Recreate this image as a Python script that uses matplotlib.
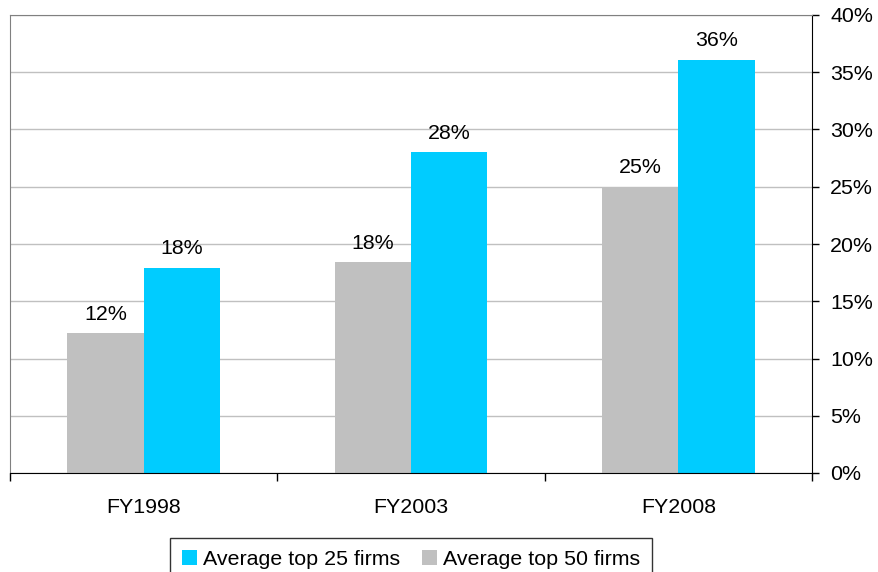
import matplotlib
matplotlib.use("Agg")
import matplotlib.pyplot as plt
import numpy as np

plt.rcParams['font.family'] = ['Liberation Sans', 'DejaVu Sans']

categories = ['FY1998', 'FY2003', 'FY2008']
top50 = [12.2, 18.4, 25.0]
top25 = [17.9, 28.0, 36.1]
series_names = ['Average top 25 firms', 'Average top 50 firms']

fig = plt.figure(figsize=(8.79, 5.72), dpi=100)
ax = fig.add_axes([10 / 879, 99 / 572, 802 / 879, 458 / 572])

x = np.arange(len(categories)) + 0.5
w = 0.286
fs = 15.4

b50 = ax.bar(x - w / 2, top50, w, color='#C0C0C0', zorder=2)
b25 = ax.bar(x + w / 2, top25, w, color='#00CCFF', zorder=2)
ax.bar_label(b50, labels=['%d%%' % round(v) for v in top50], padding=7, fontsize=fs)
ax.bar_label(b25, labels=['%d%%' % round(v) for v in top25], padding=7, fontsize=fs)

ax.set_xlim(0, 3)
ax.set_ylim(0, 40)
ax.yaxis.tick_right()
ax.set_yticks(range(0, 41, 5))
ax.set_yticklabels(['%d%%' % v for v in range(0, 41, 5)], fontsize=fs)
ax.tick_params(axis='y', direction='out', length=5, width=1, pad=8)
ax.grid(axis='y', color='#C0C0C0', linewidth=1, zorder=0)

# category boundaries get the tick marks, centres get the labels
ax.set_xticks([0, 1, 2, 3])
ax.set_xticklabels([])
ax.set_xticks(x, minor=True)
ax.set_xticklabels(categories, minor=True, fontsize=fs)
ax.tick_params(axis='x', which='major', direction='out', length=6, width=1)
ax.tick_params(axis='x', which='minor', length=0, pad=18)

ax.spines['left'].set_color('#808080')
ax.spines['top'].set_color('#808080')
ax.spines['right'].set_color('black')
ax.spines['bottom'].set_color('black')

leg = fig.legend([b25, b50], series_names, loc='upper center',
                 bbox_to_anchor=(411 / 879, 1 - 538 / 572), ncol=2,
                 fontsize=fs, frameon=True, fancybox=False, edgecolor='black',
                 handlelength=0.7, handleheight=0.7, handletextpad=0.3,
                 columnspacing=1.0, borderpad=0.55, borderaxespad=0)
leg.get_frame().set_linewidth(1)

fig.savefig('out.png', dpi=100)
